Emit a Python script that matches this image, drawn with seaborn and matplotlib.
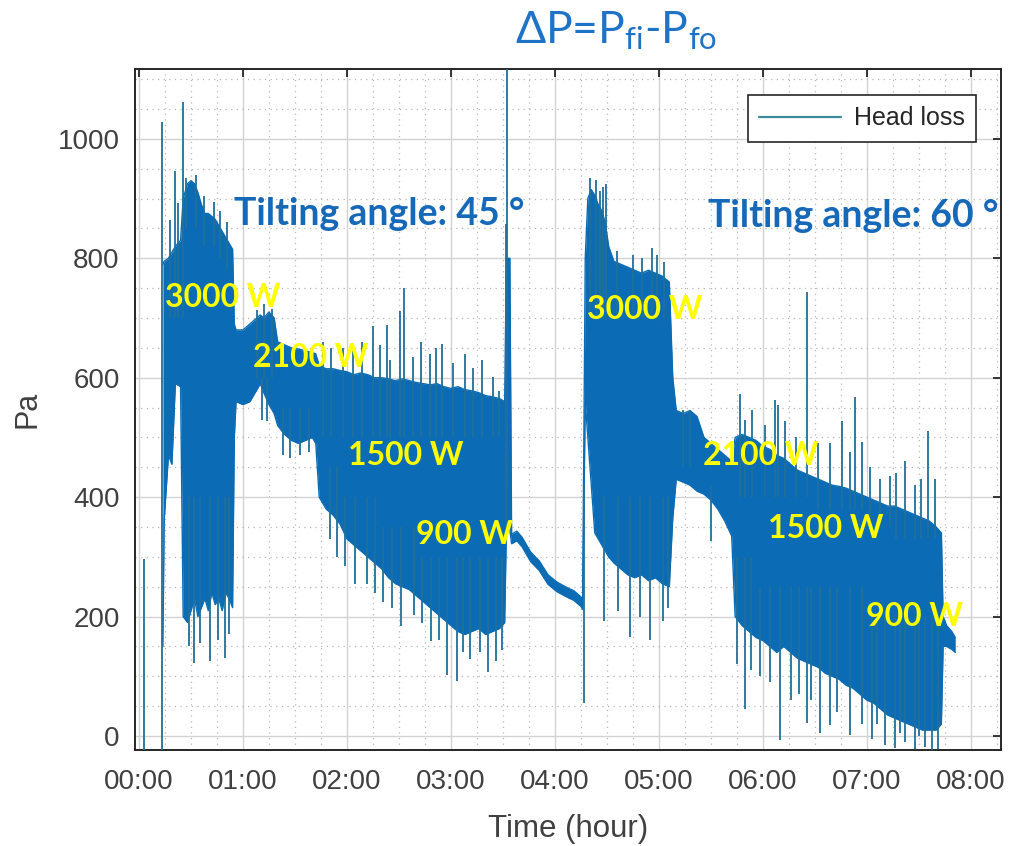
import matplotlib
matplotlib.use("Agg")
import matplotlib.pyplot as plt
import seaborn as sns
import numpy as np
from matplotlib.ticker import MultipleLocator, FixedLocator

# ---------------- data (time in minutes, pressure in Pa) ----------------
# envelope of the dense head-loss signal: time, upper edge, lower edge
band_t = [13.8, 14.5, 17, 19, 21, 24, 25.5, 28, 30, 32, 34, 36, 38, 40, 42, 44, 46, 48, 50, 52, 54,
          55, 56, 60, 64, 68, 70, 72, 75, 78, 80, 84, 88, 92, 96, 100, 102,
          104, 108, 112, 116, 120, 124, 128, 132, 136, 140, 144, 148, 152, 156, 160, 164, 168,
          172, 176, 180, 184, 188, 192, 196, 200, 204, 208, 211, 212, 214,
          215, 218, 221, 226, 231, 236, 241, 246, 251, 255, 256,
          257.5, 259, 261, 263, 265, 267, 269, 271, 274, 278, 282, 286, 290, 294, 298, 302, 306,
          308, 310, 314, 318, 322, 326, 330, 334, 338, 342,
          344, 348, 352, 356, 360, 364, 368, 372, 376, 380, 384, 388, 392, 396, 400, 404, 408, 412, 416,
          420, 424, 428, 432, 436, 440, 444, 448, 452, 456, 460, 463, 464, 466, 469, 471]
band_hi = [790, 795, 800, 810, 820, 830, 900, 925, 930, 925, 910, 890, 875, 875, 870, 865, 855, 845, 835, 825, 815,
           690, 680, 680, 690, 700, 705, 700, 710, 700, 660, 655, 650, 648, 645, 642, 640,
           620, 615, 615, 612, 610, 605, 608, 605, 600, 600, 598, 595, 598, 595, 592, 590, 588,
           590, 585, 582, 585, 580, 578, 575, 570, 568, 565, 560, 800, 800,
           338, 343, 333, 308, 293, 270, 258, 250, 243, 233, 228,
           800, 900, 915, 905, 890, 880, 860, 820, 795, 790, 785, 780, 775, 780, 775, 770, 760,
           600, 545, 540, 545, 535, 500, 490, 480, 470, 460,
           500, 505, 500, 495, 485, 480, 470, 465, 455, 445, 440, 435, 430, 425, 420, 418, 415, 410, 405,
           400, 395, 390, 385, 385, 380, 375, 370, 365, 360, 350, 340, 200, 185, 175, 165]
band_lo = [150, 360, 470, 455, 590, 585, 200, 190, 210, 230, 200, 215, 230, 210, 240, 220, 230, 210, 240, 230, 215,
           500, 560, 555, 560, 580, 590, 575, 555, 540, 520, 505, 495, 490, 495, 500, 490,
           400, 380, 370, 355, 330, 320, 310, 300, 290, 280, 265, 255, 250, 245, 235, 225, 215,
           205, 195, 185, 175, 170, 175, 180, 170, 175, 180, 190, 345, 345,
           322, 327, 317, 292, 277, 254, 242, 234, 227, 217, 212,
           560, 500, 420, 340, 330, 320, 310, 300, 290, 280, 270, 265, 270, 260, 265, 255, 250,
           365, 430, 425, 420, 410, 405, 395, 380, 360, 335,
           200, 185, 175, 165, 160, 150, 140, 150, 140, 130, 125, 120, 115, 105, 100, 95, 85, 80, 70,
           60, 55, 45, 35, 30, 25, 20, 15, 10, 10, 10, 20, 150, 150, 145, 140]

# isolated spikes of the signal: time, lowest value, highest value
spike_t = [3, 13.3, 18, 20.8, 22.5, 25.4, 27, 33, 37.5, 43, 47, 51,
           29, 31.7, 35, 41, 45.6, 49.6, 52,
           68, 72, 77, 71, 74, 83, 87, 93, 98,
           106, 111, 117.7, 123.5, 128.7, 135, 139, 143, 144.8, 150.6, 152.9, 158, 163, 168, 171.4, 174.8,
           181, 188, 192.7, 198, 204, 208,
           110, 114, 119, 124.6, 131.5, 136, 140.8, 146, 151, 158.5, 163.5, 168.5, 173, 177.7, 183.5, 187,
           191, 196.7, 201.4, 206, 209.4,
           211.5, 212.3,
           256.5, 260.2, 263.7, 265.9, 267.7, 269.4, 268.3, 276.4, 283.3, 289, 294.8, 302.3, 305.2,
           276, 285, 290, 296, 298.9, 302.9,
           314, 318, 330,
           346.8, 349.6, 353.7, 361, 367, 368.7, 372.7, 379, 385.4, 391.8, 399, 405.6, 410.2, 413.1, 417.1,
           422, 427.5, 433.3, 437, 442, 447.7, 451, 455.2, 459.3,
           345, 349.8, 353, 358.3, 364, 369.8, 376, 381, 385.6, 388, 392.9, 398.7, 403, 410.4, 417.3,
           422.9, 426, 430.4, 436.2, 439, 442.2, 447.9, 450, 453.5, 457.5, 461]
spike_lo = [-25, -25, 700, 700, 700, 700, 850, 850, 820, 820, 800, 780,
            150, 122, 155, 125, 160, 130, 170,
            600, 600, 600, 530, 527, 470, 466, 470, 475,
            500, 500, 500, 500, 500, 500, 500, 500, 500, 500, 500, 500, 500, 500, 500, 500,
            500, 500, 500, 500, 500, 500,
            330, 300, 285, 255, 255, 240, 225, 215, 184, 203, 190, 159, 160, 102, 92, 140,
            129, 140, 107, 125, 144,
            345, 345,
            55, 700, 700, 700, 700, 700, 193, 210, 166, 200, 161, 193, 215,
            700, 700, 700, 700, 700, 700,
            450, 450, 327,
            400, 400, 400, 400, 400, 400, 400, 400, 400, 380, 380, 380, 380, 380, 380,
            350, 350, 350, 330, 330, 330, 330, 330, 330,
            120, 45, 110, 100, 90, -7, 60, 70, 22, 60, 5, 18, 40, 2, 20,
            -5, 20, -15, -20, 5, -10, -22, 0, -18, -25, -22]
spike_hi = [297, 1028, 864, 946, 892, 1062, 935, 940, 905, 895, 880, 860,
            400, 400, 400, 400, 400, 400, 400,
            713, 723, 715, 600, 600, 550, 550, 550, 550,
            660, 650, 650, 651, 660, 687, 654, 688, 630, 712, 750, 635, 660, 640, 649, 657,
            625, 639, 617, 630, 602, 577,
            450, 450, 400, 400, 400, 400, 350, 350, 350, 350, 300, 300, 300, 300, 300, 300,
            300, 300, 300, 300, 300,
            858, 1125,
            420, 935, 931, 912, 920, 925, 400, 400, 400, 400, 400, 400, 400,
            812, 806, 800, 818, 806, 794,
            546, 546, 420,
            572, 530, 546, 520, 562, 555, 527, 500, 743, 490, 490, 527, 476, 567, 493,
            450, 430, 435, 440, 460, 420, 430, 510, 430,
            300, 300, 300, 250, 250, 250, 250, 250, 250, 250, 250, 250, 250, 250, 250,
            200, 200, 200, 200, 200, 200, 200, 200, 200, 200, 200]

xtick_pos = [0, 60, 120, 180, 240, 300, 360, 420, 480]
xtick_lbl = ["00:00", "01:00", "02:00", "03:00", "04:00", "05:00", "06:00", "07:00", "08:00"]
ytick_pos = [0, 200, 400, 600, 800, 1000]

# power labels: text, x-pixel-left, baseline-pixel
power_txt = ["3000 W", "2100 W", "1500 W", "900 W", "3000 W", "2100 W", "1500 W", "900 W"]
power_x = [165, 253, 348, 416, 587, 703, 768, 866]
power_y = [307, 367, 465, 544, 319, 465, 538, 626]

# ---------------- style ----------------
sns.set_theme(style="white")
plt.rcParams["font.family"] = ["Liberation Sans", "DejaVu Sans"]
plt.rcParams["mathtext.fontset"] = "custom"
plt.rcParams["mathtext.rm"] = "Lato"
plt.rcParams["mathtext.it"] = "Lato:italic"

W, H = 1009, 846
fig = plt.figure(figsize=(W / 100, H / 100), dpi=100)
fig.patch.set_facecolor("white")
L, R, T, B = 135, 1001, 69, 750
ax = fig.add_axes([L / W, 1 - B / H, (R - L) / W, (B - T) / H])
ax.set_facecolor("white")

BAND = "#0b6cb5"
LINE = "#21709a"

ax.fill_between(band_t, band_lo, band_hi, color=BAND, lw=0, zorder=3)
sns.lineplot(x=band_t, y=band_hi, ax=ax, color=BAND, lw=1.0, estimator=None, sort=False,
             label="Head loss", zorder=3)
sns.lineplot(x=band_t, y=band_lo, ax=ax, color=BAND, lw=1.0, estimator=None, sort=False,
             zorder=3, legend=False)
ax.vlines(spike_t, spike_lo, spike_hi, color=LINE, lw=1.3, zorder=4)

ax.set_xlim(-2.3, 497.4)
ax.set_ylim(-23.5, 1117)
ax.xaxis.set_major_locator(FixedLocator(xtick_pos))
ax.set_xticklabels(xtick_lbl)
ax.yaxis.set_major_locator(FixedLocator(ytick_pos))
ax.xaxis.set_minor_locator(MultipleLocator(15))
ax.yaxis.set_minor_locator(MultipleLocator(50))

ax.set_axisbelow(True)
ax.grid(which="major", color="#d2d2d2", lw=1.0, ls="-", zorder=0)
ax.grid(which="minor", color="#b8b8b8", lw=0.9, ls=(0, (1, 3.5)), zorder=0)

ax.tick_params(which="major", direction="in", length=6, width=1.3, top=True, right=True,
               color="#262626", labelsize=20, labelcolor="#404040")
ax.tick_params(axis="x", which="major", pad=14)
ax.tick_params(axis="y", which="major", pad=11)
ax.tick_params(which="minor", length=0)
for s in ax.spines.values():
    s.set_color("#262626")
    s.set_linewidth(1.4)
    s.set_visible(True)

ax.set_xlabel("Time (hour)", fontsize=22.5, color="#404040")
ax.set_ylabel("Pa", fontsize=22, color="#404040")
ax.xaxis.set_label_coords(0.5, (B - 837) / (B - T))
ax.xaxis.label.set_va("baseline")
ax.yaxis.set_label_coords((42 - L) / (R - L), 0.5)

leg = ax.legend(loc="upper right", bbox_to_anchor=((976 - L) / (R - L), (B - 95) / (B - T)),
                fontsize=18, frameon=True, fancybox=False, framealpha=1,
                edgecolor="#262626", borderpad=0.45, handlelength=3.3, handletextpad=0.5,
                borderaxespad=0)
leg.get_frame().set_linewidth(1.2)
for ln in leg.get_lines():
    ln.set_color("#3a8a9c")
    ln.set_linewidth(1.6)
for t in leg.get_texts():
    t.set_color("#262626")

# title
fig.text(515 / W, 1 - 43 / H, r"ΔP=P$_{\mathrm{fi}}$-P$_{\mathrm{fo}}$", fontsize=32, color="#1f73c6",
         ha="left", va="baseline", family=["Lato", "DejaVu Sans"])

# tilting-angle annotations
for txt, x0, yb in [("Tilting angle: 45 °", 234, 225), ("Tilting angle: 60 °", 708, 227)]:
    fig.text(x0 / W, 1 - yb / H, txt, fontsize=27, color="#1668b8", fontweight="bold",
             ha="left", va="baseline", family=["Lato", "DejaVu Sans"], zorder=10)

for txt, x0, yb in zip(power_txt, power_x, power_y):
    fig.text(x0 / W, 1 - yb / H, txt, fontsize=23, color="#ffff00", fontweight="bold",
             ha="left", va="baseline", family=["Lato", "DejaVu Sans"], zorder=10)

fig.savefig("out.png", dpi=100)
